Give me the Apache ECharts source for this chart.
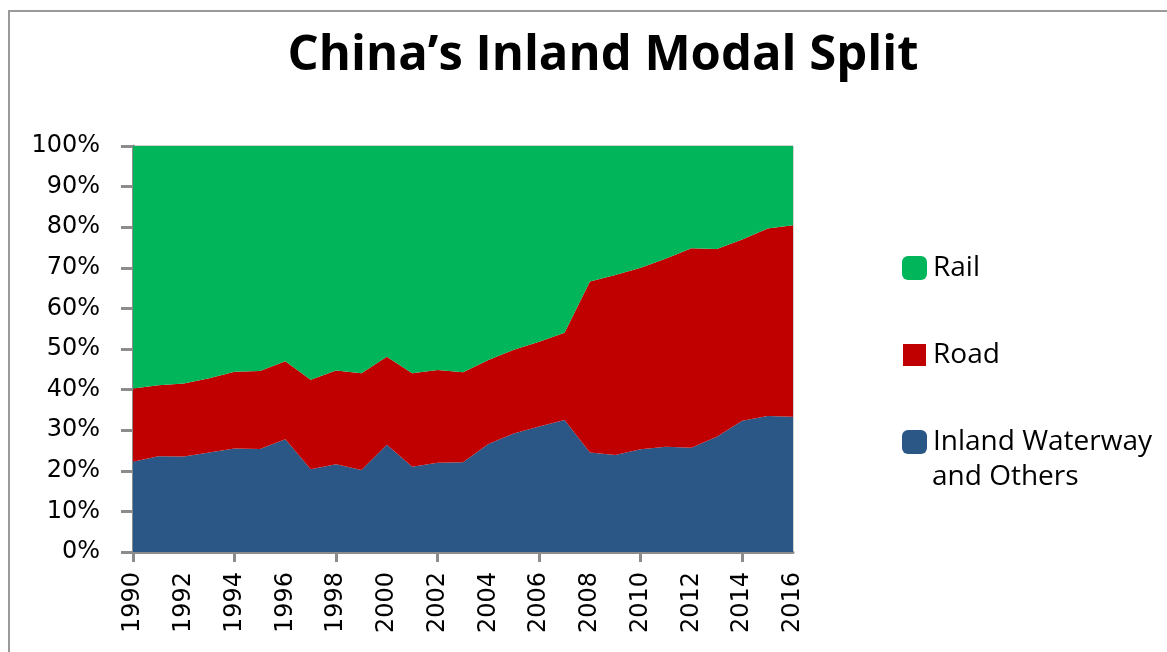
<!DOCTYPE html>
<html>
<head>
<meta charset="utf-8">
<title>China's Inland Modal Split</title>
<script src="https://cdn.jsdelivr.net/npm/echarts@6/dist/echarts.min.js"></script>
<style>
    html, body { margin: 0; padding: 0; background: #fff; }
    #content { width: 1167px; height: 652px; }
</style>
</head>
<body>
<div id="content"></div>
<script>
// years on the category axis
var years = [
    '1990', '1991', '1992', '1993', '1994', '1995', '1996', '1997', '1998',
    '1999', '2000', '2001', '2002', '2003', '2004', '2005', '2006', '2007',
    '2008', '2009', '2010', '2011', '2012', '2013', '2014', '2015', '2016'
];
// share of each mode, %
var waterway = [22.2, 23.6, 23.5, 24.5, 25.5, 25.4, 27.8, 20.4, 21.6, 20.2, 26.4, 21.0, 22.0, 22.1,
    26.6, 29.2, 30.9, 32.5, 24.5, 23.9, 25.3, 25.9, 25.7, 28.4, 32.3, 33.5, 33.3];
var road = [18.1, 17.5, 18.0, 18.3, 18.9, 19.2, 19.2, 22.0, 23.1, 23.8, 21.7, 23.0, 22.8, 22.2,
    20.7, 20.6, 20.9, 21.5, 42.1, 44.3, 44.7, 46.4, 49.1, 46.2, 44.7, 46.2, 47.2];
var rail = [59.7, 58.9, 58.5, 57.2, 55.6, 55.4, 53.0, 57.6, 55.3, 56.0, 51.9, 56.0, 55.2, 55.7,
    52.7, 50.2, 48.2, 46.0, 33.4, 31.8, 30.0, 27.7, 25.2, 25.4, 23.0, 20.3, 19.5];
var yTicks = [0, 10, 20, 30, 40, 50, 60, 70, 80, 90, 100];

var myChart = echarts.init(document.getElementById('content'));

var axisGray = '#8c8c8c';

function areaSeries(name, data, color) {
    return {
        name: name,
        type: 'line',
        stack: 'total',
        data: data,
        showSymbol: false,
        symbol: 'none',
        lineStyle: { width: 0 },
        itemStyle: { color: color },
        areaStyle: { color: color, opacity: 1 },
        emphasis: { disabled: true }
    };
}

var option = {
    animation: false,
    backgroundColor: '#fff',
    title: {
        text: 'China\u2019s Inland Modal Split',
        left: 598,
        top: 27,
        textAlign: 'center',
        textStyle: {
            fontFamily: 'Open Sans',
            fontWeight: 'bold',
            fontSize: 49,
            color: '#000'
        }
    },
    legend: {
        orient: 'vertical',
        left: 901,
        top: 252,
        padding: 0,
        itemGap: 55,
        itemWidth: 25,
        itemHeight: 24,
        selectedMode: false,
        data: [
            {name: 'Rail', icon: 'roundRect'},
            {name: 'Road', icon: 'rect', itemStyle: {borderColor: '#fff', borderWidth: 2}},
            {name: 'Inland Waterway and Others', icon: 'roundRect'}
        ],
        formatter: function (name) {
            return name === 'Inland Waterway and Others' ? 'Inland Waterway' : name;
        },
        textStyle: {
            fontFamily: 'Open Sans',
            fontSize: 28,
            lineHeight: 32,
            color: '#000',
            padding: [0, 0, 0, 1]
        }
    },
    graphic: [
        {
            type: 'rect',
            silent: true,
            shape: {x: 9, y: 11, width: 1200, height: 700},
            style: {fill: 'none', stroke: '#9a9a9a', lineWidth: 2}
        },
        {
            type: 'text',
            left: 932,
            top: 463,
            style: {
                text: 'and Others',
                font: '28px "Open Sans"',
                fill: '#000'
            }
        }
    ],
    grid: {
        left: 133,
        right: 374,
        top: 146,
        bottom: 100,
        show: true,
        borderColor: '#a6a6a6',
        borderWidth: 1
    },
    xAxis: {
        type: 'category',
        data: years,
        boundaryGap: false,
        axisLine: { lineStyle: { color: axisGray, width: 3 } },
        axisTick: { interval: 3, length: 10, lineStyle: { color: axisGray, width: 3 } },
        axisLabel: {
            interval: 1,
            rotate: 90,
            margin: 20,
            fontFamily: 'DejaVu Sans',
            fontSize: 24,
            color: '#000'
        },
        splitLine: { show: false }
    },
    yAxis: {
        type: 'value',
        min: yTicks[0],
        max: yTicks[yTicks.length - 1],
        interval: 10,
        axisLine: { show: true, lineStyle: { color: axisGray, width: 3 } },
        axisTick: { show: true, length: 12, lineStyle: { color: axisGray, width: 3 } },
        axisLabel: {
            margin: 33,
            formatter: '{value}%',
            fontFamily: 'DejaVu Sans',
            fontSize: 24,
            color: '#000'
        },
        splitLine: { show: false }
    },
    series: [
        areaSeries('Inland Waterway and Others', waterway, '#2a5785'),
        areaSeries('Road', road, '#c00000'),
        areaSeries('Rail', rail, '#00b55a')
    ]
};
myChart.setOption(option);
</script>
</body>
</html>
